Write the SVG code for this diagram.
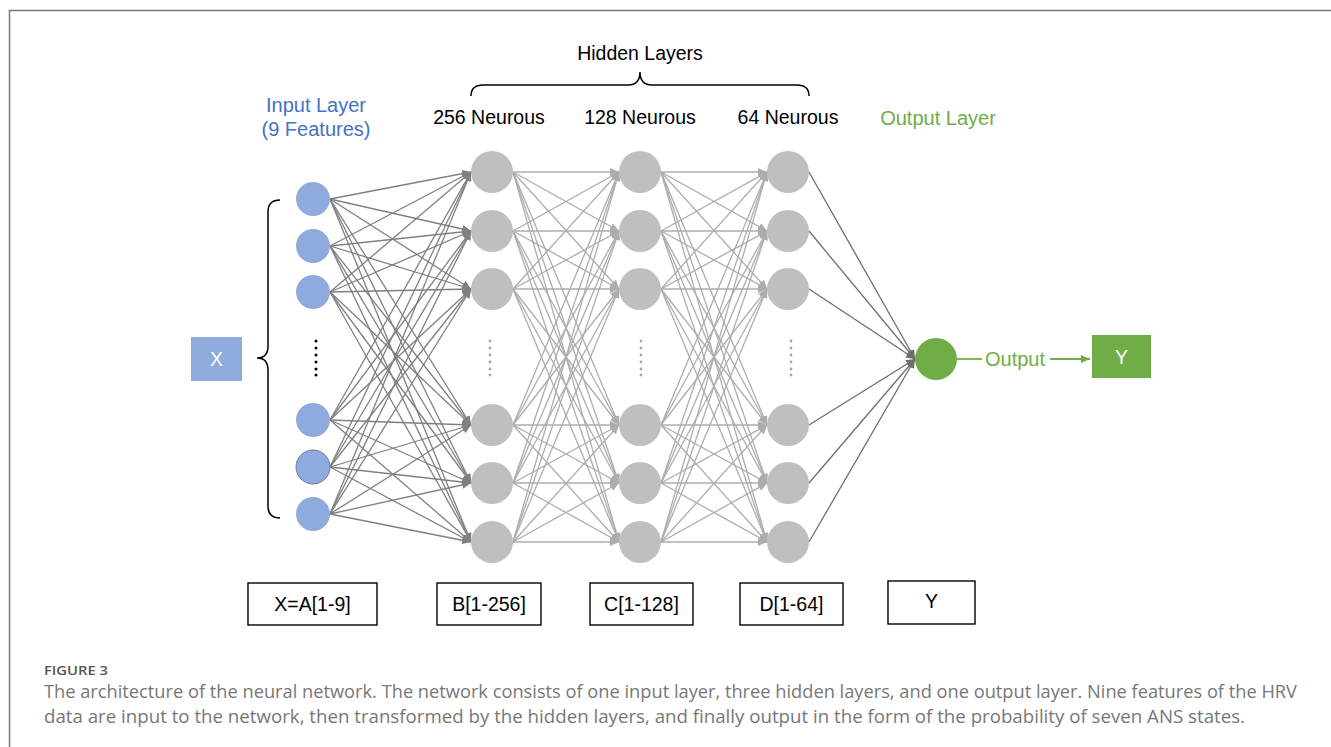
<svg xmlns="http://www.w3.org/2000/svg" width="1331" height="747" viewBox="0 0 1331 747">
<style>
.t{font-family:"Liberation Sans",Arial,sans-serif;font-size:19.5px;fill:#000;text-anchor:middle}
.blue{fill:#4472C4}
.green{fill:#70AD47}
.wt{fill:#fff}
.inp{fill:#8FAADC}
.hid{fill:#BFBFBF}
.box{fill:#fff;stroke:#000;stroke-width:1.4}
.c1{stroke:#808080;stroke-width:1.3;fill:none;marker-end:url(#a1)}
.c2{stroke:#ADADAD;stroke-width:1.3;fill:none;marker-end:url(#a2)}
.c3{stroke:#6E6E6E;stroke-width:1.3;fill:none;marker-end:url(#a3)}
.cap{font-family:"Open Sans","Liberation Sans",sans-serif;font-size:17.5px;fill:#777}
</style>
<defs>
<marker id="a1" markerUnits="userSpaceOnUse" markerWidth="10" markerHeight="8" refX="9" refY="4" orient="auto"><path d="M0,0 L9,4 L0,8 z" fill="#808080"/></marker>
<marker id="a2" markerUnits="userSpaceOnUse" markerWidth="10" markerHeight="8" refX="9" refY="4" orient="auto"><path d="M0,0 L9,4 L0,8 z" fill="#ADADAD"/></marker>
<marker id="a3" markerUnits="userSpaceOnUse" markerWidth="10" markerHeight="8" refX="9" refY="4" orient="auto"><path d="M0,0 L9,4 L0,8 z" fill="#6E6E6E"/></marker>
<marker id="ag" markerUnits="userSpaceOnUse" markerWidth="10" markerHeight="8" refX="9" refY="4" orient="auto"><path d="M0,0 L9,4 L0,8 z" fill="#70AD47"/></marker>
</defs>
<rect width="1331" height="747" fill="#fff"/>
<path d="M9.5,747 L9.5,10.5 L1331,10.5" fill="none" stroke="#777" stroke-width="1.5"/>

<g id="connectors">
<g class="c1">
<path d="M330,199 L471,172"/><path d="M330,199 L471,231"/><path d="M330,199 L471,289"/><path d="M330,199 L471,425"/><path d="M330,199 L471,483"/><path d="M330,199 L471,542"/>
<path d="M330,246 L471,172"/><path d="M330,246 L471,231"/><path d="M330,246 L471,289"/><path d="M330,246 L471,425"/><path d="M330,246 L471,483"/><path d="M330,246 L471,542"/>
<path d="M330,292 L471,172"/><path d="M330,292 L471,231"/><path d="M330,292 L471,289"/><path d="M330,292 L471,425"/><path d="M330,292 L471,483"/><path d="M330,292 L471,542"/>
<path d="M330,420 L471,172"/><path d="M330,420 L471,231"/><path d="M330,420 L471,289"/><path d="M330,420 L471,425"/><path d="M330,420 L471,483"/><path d="M330,420 L471,542"/>
<path d="M330,467 L471,172"/><path d="M330,467 L471,231"/><path d="M330,467 L471,289"/><path d="M330,467 L471,425"/><path d="M330,467 L471,483"/><path d="M330,467 L471,542"/>
<path d="M330,514 L471,172"/><path d="M330,514 L471,231"/><path d="M330,514 L471,289"/><path d="M330,514 L471,425"/><path d="M330,514 L471,483"/><path d="M330,514 L471,542"/>
</g>
<g class="c2">
<path d="M513,172 L619,172"/><path d="M513,172 L619,231"/><path d="M513,172 L619,289"/><path d="M513,172 L619,425"/><path d="M513,172 L619,483"/><path d="M513,172 L619,542"/>
<path d="M513,231 L619,172"/><path d="M513,231 L619,231"/><path d="M513,231 L619,289"/><path d="M513,231 L619,425"/><path d="M513,231 L619,483"/><path d="M513,231 L619,542"/>
<path d="M513,289 L619,172"/><path d="M513,289 L619,231"/><path d="M513,289 L619,289"/><path d="M513,289 L619,425"/><path d="M513,289 L619,483"/><path d="M513,289 L619,542"/>
<path d="M513,425 L619,172"/><path d="M513,425 L619,231"/><path d="M513,425 L619,289"/><path d="M513,425 L619,425"/><path d="M513,425 L619,483"/><path d="M513,425 L619,542"/>
<path d="M513,483 L619,172"/><path d="M513,483 L619,231"/><path d="M513,483 L619,289"/><path d="M513,483 L619,425"/><path d="M513,483 L619,483"/><path d="M513,483 L619,542"/>
<path d="M513,542 L619,172"/><path d="M513,542 L619,231"/><path d="M513,542 L619,289"/><path d="M513,542 L619,425"/><path d="M513,542 L619,483"/><path d="M513,542 L619,542"/>
</g>
<g class="c2">
<path d="M661,172 L767,172"/><path d="M661,172 L767,231"/><path d="M661,172 L767,289"/><path d="M661,172 L767,425"/><path d="M661,172 L767,483"/><path d="M661,172 L767,542"/>
<path d="M661,231 L767,172"/><path d="M661,231 L767,231"/><path d="M661,231 L767,289"/><path d="M661,231 L767,425"/><path d="M661,231 L767,483"/><path d="M661,231 L767,542"/>
<path d="M661,289 L767,172"/><path d="M661,289 L767,231"/><path d="M661,289 L767,289"/><path d="M661,289 L767,425"/><path d="M661,289 L767,483"/><path d="M661,289 L767,542"/>
<path d="M661,425 L767,172"/><path d="M661,425 L767,231"/><path d="M661,425 L767,289"/><path d="M661,425 L767,425"/><path d="M661,425 L767,483"/><path d="M661,425 L767,542"/>
<path d="M661,483 L767,172"/><path d="M661,483 L767,231"/><path d="M661,483 L767,289"/><path d="M661,483 L767,425"/><path d="M661,483 L767,483"/><path d="M661,483 L767,542"/>
<path d="M661,542 L767,172"/><path d="M661,542 L767,231"/><path d="M661,542 L767,289"/><path d="M661,542 L767,425"/><path d="M661,542 L767,483"/><path d="M661,542 L767,542"/>
</g>
<g class="c3">
<path d="M809,172 L915,359"/><path d="M809,231 L915,359"/><path d="M809,289 L915,359"/><path d="M809,425 L915,359"/><path d="M809,483 L915,359"/><path d="M809,542 L915,359"/>
</g>
<path d="M957,359 L982,359" stroke="#70AD47" stroke-width="1.8" fill="none"/>
<path d="M1050,359 L1090,359" stroke="#70AD47" stroke-width="1.8" fill="none" marker-end="url(#ag)"/>
</g>

<g id="x-input">
<rect x="191" y="337" width="51" height="44" fill="#8FAADC"/>
<text class="t wt" x="216.5" y="366">X</text>
</g>
<g id="input-brace">
<path d="M280,200 Q268,200 268,212 L268,346 Q268,358 257,358 Q268,358 268,370 L268,506 Q268,518 280,518" fill="none" stroke="#000" stroke-width="1.5"/>
</g>

<g id="input-layer">
<text class="t blue" x="316" y="112" style="font-size:20px">Input Layer</text>
<text class="t blue" x="316" y="136" style="font-size:20px">(9 Features)</text>
<circle class="inp" cx="313" cy="199" r="17"/>
<circle class="inp" cx="313" cy="246" r="17"/>
<circle class="inp" cx="313" cy="292" r="17"/>
<circle class="inp" cx="313" cy="420" r="17"/>
<circle class="inp" cx="313" cy="467" r="17" stroke="#6A7A9C" stroke-width="1"/>
<circle class="inp" cx="313" cy="514" r="17"/>
<g fill="#000"><circle cx="316" cy="341" r="1.5"/><circle cx="316" cy="348" r="1.5"/><circle cx="316" cy="355" r="1.5"/><circle cx="316" cy="362" r="1.5"/><circle cx="316" cy="369" r="1.5"/><circle cx="316" cy="375" r="1.5"/></g>
</g>

<g id="hidden-brace">
<path d="M471,96 Q471,85 483,85 L628,85 Q640,85 640,72 Q640,85 652,85 L797,85 Q809,85 809,96" fill="none" stroke="#000" stroke-width="1.5"/>
<text class="t" x="640" y="60">Hidden Layers</text>
</g>

<g id="hidden-1">
<text class="t" x="489" y="124">256 Neurous</text>
<circle class="hid" cx="492" cy="172" r="21"/>
<circle class="hid" cx="492" cy="231" r="21"/>
<circle class="hid" cx="492" cy="289" r="21"/>
<circle class="hid" cx="492" cy="425" r="21"/>
<circle class="hid" cx="492" cy="483" r="21"/>
<circle class="hid" cx="492" cy="542" r="21"/>
<g fill="#A6A6A6"><circle cx="490" cy="341" r="1.4"/><circle cx="490" cy="348" r="1.4"/><circle cx="490" cy="355" r="1.4"/><circle cx="490" cy="362" r="1.4"/><circle cx="490" cy="369" r="1.4"/><circle cx="490" cy="375" r="1.4"/></g>
</g>

<g id="hidden-2">
<text class="t" x="640" y="124">128 Neurous</text>
<circle class="hid" cx="640" cy="172" r="21"/>
<circle class="hid" cx="640" cy="231" r="21"/>
<circle class="hid" cx="640" cy="289" r="21"/>
<circle class="hid" cx="640" cy="425" r="21"/>
<circle class="hid" cx="640" cy="483" r="21"/>
<circle class="hid" cx="640" cy="542" r="21"/>
<g fill="#A6A6A6"><circle cx="641" cy="341" r="1.4"/><circle cx="641" cy="348" r="1.4"/><circle cx="641" cy="355" r="1.4"/><circle cx="641" cy="362" r="1.4"/><circle cx="641" cy="369" r="1.4"/><circle cx="641" cy="375" r="1.4"/></g>
</g>

<g id="hidden-3">
<text class="t" x="788" y="124">64 Neurous</text>
<circle class="hid" cx="788" cy="172" r="21"/>
<circle class="hid" cx="788" cy="231" r="21"/>
<circle class="hid" cx="788" cy="289" r="21"/>
<circle class="hid" cx="788" cy="425" r="21"/>
<circle class="hid" cx="788" cy="483" r="21"/>
<circle class="hid" cx="788" cy="542" r="21"/>
<g fill="#A6A6A6"><circle cx="791" cy="341" r="1.4"/><circle cx="791" cy="348" r="1.4"/><circle cx="791" cy="355" r="1.4"/><circle cx="791" cy="362" r="1.4"/><circle cx="791" cy="369" r="1.4"/><circle cx="791" cy="375" r="1.4"/></g>
</g>

<g id="output-layer">
<text class="t green" x="938" y="125" style="font-size:20px">Output Layer</text>
<circle cx="936" cy="359" r="21" fill="#70AD47"/>
<text class="t green" x="1015" y="366" style="font-size:20px">Output</text>
</g>

<g id="y-output">
<rect x="1092" y="335" width="59" height="43" fill="#70AD47"/>
<text class="t wt" x="1121.5" y="364">Y</text>
</g>

<g id="label-a"><rect class="box" x="248" y="583" width="129" height="42"/><text class="t" x="312.5" y="611">X=A[1-9]</text></g>
<g id="label-b"><rect class="box" x="437" y="583" width="104" height="42"/><text class="t" x="489" y="611">B[1-256]</text></g>
<g id="label-c"><rect class="box" x="590" y="583" width="103" height="42"/><text class="t" x="641.5" y="611">C[1-128]</text></g>
<g id="label-d"><rect class="box" x="740" y="583" width="103" height="42"/><text class="t" x="791.5" y="611">D[1-64]</text></g>
<g id="label-y"><rect class="box" x="888" y="581" width="87" height="43"/><text class="t" x="931.5" y="608">Y</text></g>

<g id="caption">
<text x="44" y="675" textLength="64" lengthAdjust="spacingAndGlyphs" style="font-family:'Open Sans','Liberation Sans',sans-serif;font-size:13px;font-weight:600;fill:#555">FIGURE 3</text>
<text class="cap" x="44" y="698" textLength="1253" lengthAdjust="spacingAndGlyphs">The architecture of the neural network. The network consists of one input layer, three hidden layers, and one output layer. Nine features of the HRV</text>
<text class="cap" x="44" y="723" textLength="1201" lengthAdjust="spacingAndGlyphs">data are input to the network, then transformed by the hidden layers, and finally output in the form of the probability of seven ANS states.</text>
</g>
</svg>
